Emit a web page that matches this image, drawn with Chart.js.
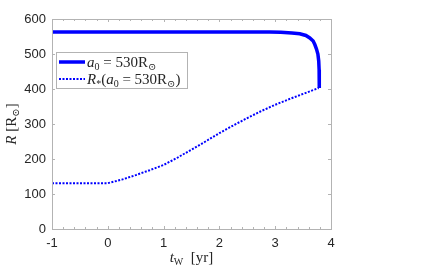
<!DOCTYPE html>
<html><head><meta charset="utf-8">
<script src="https://cdn.jsdelivr.net/npm/chart.js@4.4.0/dist/chart.umd.min.js"></script>
<style>html,body{margin:0;padding:0;background:#fff}#wrap{width:448px;height:269px}</style>
</head><body><div id="wrap"><canvas id="c" width="448" height="269"></canvas></div>
<script>
const solidT = [-1, 0, 1, 2, 2.9, 3.1, 3.3, 3.44, 3.55, 3.62, 3.68, 3.71, 3.74, 3.765, 3.78, 3.787, 3.79, 3.79];
const solidR = [563, 563, 563, 563, 563, 562, 560, 558, 553, 546, 537, 527, 514, 500, 480, 455, 430, 403];
const dotT = [-1, 0, 0.25, 0.5, 0.75, 1, 1.25, 1.5, 1.75, 2, 2.25, 2.5, 2.75, 3, 3.25, 3.5, 3.78];
const dotR = [131, 131, 141, 154, 168, 183, 204, 227, 250, 274, 296, 317, 337, 355, 371, 386, 403];
const xTicks = [-1, 0, 1, 2, 3, 4];
const yTicks = [0, 100, 200, 300, 400, 500, 600];

const BLUE = '#0000ff', AX = '#b3b3b3', TXT = '#262626';
const SERIF = '"Liberation Serif", "DejaVu Serif", serif';

function drawMath(ctx, parts, x, y) {
  let cx = x;
  for (const p of parts) {
    ctx.font = p.f;
    ctx.fillText(p.t, cx, y + (p.dy || 0));
    cx += ctx.measureText(p.t).width;
  }
  return cx - x;
}
function mathWidth(ctx, parts) {
  let w = 0;
  for (const p of parts) { ctx.font = p.f; w += ctx.measureText(p.t).width; }
  return w;
}

const boxPlugin = {
  id: 'box',
  afterDatasetsDraw(chart) {
    const {ctx, chartArea: a, scales: {x, y}} = chart;
    ctx.save();
    ctx.strokeStyle = AX; ctx.lineWidth = 1;
    ctx.strokeRect(Math.round(a.left) + 0.5, Math.round(a.top) + 0.5, Math.round(a.right - a.left), Math.round(a.bottom - a.top));
    ctx.beginPath();
    for (let v = -1; v <= 4.0001; v += 0.2) {
      const px = Math.round(x.getPixelForValue(v)) + 0.5;
      const major = Math.abs(v - Math.round(v)) < 1e-6;
      const L = major ? 3 : 2;
      ctx.moveTo(px, a.bottom); ctx.lineTo(px, a.bottom - L);
      ctx.moveTo(px, a.top); ctx.lineTo(px, a.top + L);
    }
    for (const v of yTicks) {
      const py = Math.round(y.getPixelForValue(v)) + 0.5;
      ctx.moveTo(a.left, py); ctx.lineTo(a.left + 3, py);
      ctx.moveTo(a.right, py); ctx.lineTo(a.right - 3, py);
    }
    ctx.stroke();

    // legend
    const lx = 56, ly = 52, lw = 131, lh = 36;
    ctx.fillStyle = '#fff';
    ctx.fillRect(lx, ly, lw, lh);
    ctx.strokeStyle = AX;
    ctx.strokeRect(lx + 0.5, ly + 0.5, lw, lh);
    const ds = chart.data.datasets;
    const rows = [ly + 10, ly + 27];
    ds.forEach((d, i) => {
      ctx.save();
      ctx.strokeStyle = d.borderColor; ctx.lineWidth = d.borderWidth;
      ctx.setLineDash(d.borderDash || []);
      ctx.beginPath(); ctx.moveTo(lx + 3, rows[i]); ctx.lineTo(lx + 29, rows[i]); ctx.stroke();
      ctx.restore();
    });
    ctx.fillStyle = TXT; ctx.textBaseline = 'alphabetic'; ctx.textAlign = 'left';
    const fI = 'italic 15px ' + SERIF, fR = '15px ' + SERIF, fS = '10px ' + SERIF;
    drawMath(ctx, [{t:'a', f:fI}, {t:'0', f:fS, dy:3}, {t:' = 530R', f:fR}, {t:'\u2299', f:fS, dy:3}], lx + 31, rows[0] + 5);
    drawMath(ctx, [{t:'R', f:fI}, {t:'*', f:fS, dy:3}, {t:'(', f:fR}, {t:'a', f:fI}, {t:'0', f:fS, dy:3}, {t:' = 530R', f:fR}, {t:'\u2299', f:fS, dy:3}, {t:')', f:fR}], lx + 31, rows[1] + 5);

    // axis titles
    const xl = [{t:'t', f:'italic 15px ' + SERIF}, {t:'W', f:'10px ' + SERIF, dy:3}, {t:'  [yr]', f:'15px ' + SERIF}];
    const xw = mathWidth(ctx, xl);
    drawMath(ctx, xl, (a.left + a.right) / 2 - xw / 2, 262);
    const yl = [{t:'R', f:'italic 15px ' + SERIF}, {t:' [R', f:'15px ' + SERIF}, {t:'\u2299', f:'10px ' + SERIF, dy:3}, {t:']', f:'15px ' + SERIF}];
    const yw = mathWidth(ctx, yl);
    ctx.translate(16, (a.top + a.bottom) / 2);
    ctx.rotate(-Math.PI / 2);
    drawMath(ctx, yl, -yw / 2, 0);
    ctx.restore();
  }
};

new Chart(document.getElementById('c'), {
  type: 'line',
  data: {
    datasets: [
      { label: 'a0 = 530R', data: solidT.map((t, i) => ({x: t, y: solidR[i]})), borderColor: BLUE, borderWidth: 3.5, pointRadius: 0, tension: 0, fill: false },
      { label: 'R*(a0 = 530R)', data: dotT.map((t, i) => ({x: t, y: dotR[i]})), borderColor: BLUE, borderWidth: 2, borderDash: [2, 1.5], pointRadius: 0, tension: 0, fill: false }
    ]
  },
  options: {
    responsive: false, animation: false, devicePixelRatio: 1,
    layout: { padding: { left: 0, right: 117, top: 19, bottom: 0 } },
    plugins: { legend: { display: false }, tooltip: { enabled: false } },
    scales: {
      x: {
        type: 'linear', min: -1, max: 4,
        afterBuildTicks: s => { s.ticks = xTicks.map(v => ({value: v})); },
        afterFit: s => { s.height = 40; },
        grid: { display: false, drawTicks: false }, border: { display: false },
        ticks: { color: TXT, font: { family: '"Liberation Sans", Arial, sans-serif', size: 13 }, padding: 7, maxRotation: 0 }
      },
      y: {
        type: 'linear', min: 0, max: 600,
        afterBuildTicks: s => { s.ticks = yTicks.map(v => ({value: v})); },
        afterFit: s => { s.width = 52; },
        grid: { display: false, drawTicks: false }, border: { display: false },
        ticks: { color: TXT, font: { family: '"Liberation Sans", Arial, sans-serif', size: 13 }, padding: 6 }
      }
    }
  },
  plugins: [boxPlugin]
});
</script></body></html>
